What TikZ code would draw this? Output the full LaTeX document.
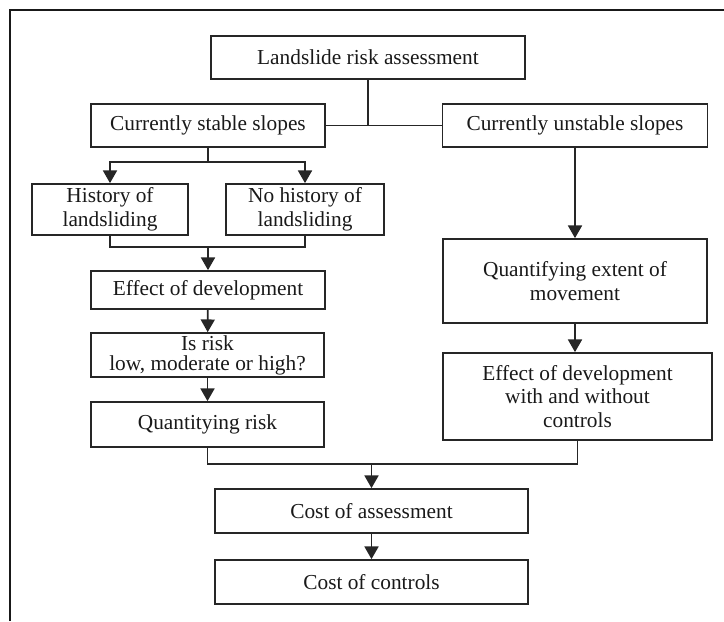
\documentclass[tikz,border=0pt]{standalone}
\usepackage{fontspec}
\setmainfont{Liberation Serif}
\usetikzlibrary{arrows.meta}
\newdimen\pxu \pxu=0.75pt

\begin{document}
\begin{tikzpicture}[x=0.75pt, y=-0.75pt,
        % Define block style
        block/.style={
        rectangle,
        draw=black!85,
        line width=1.3pt,
        align=center,
        inner sep=0pt,
        font=\fontsize{16}{17.8}\selectfont,
        text=black!90
        },
        size/.style 2 args={minimum width=#1\pxu, minimum height=#2\pxu},
        line/.style={draw=black!85, line width=1.3pt},
        arrow/.style={line, -{Triangle[length=9.5pt,width=10.5pt]}}]
        \useasboundingbox (0,0) rectangle (724,621);
        % Frame
        \draw[line width=1.6pt, black!90] (10,621) -- (10,10) -- (724,10);

        % Nodes
        \node[block, size={314}{43}] (risk) at (368,57.5) {Landslide risk assessment};
        \node[block, size={234}{43}] (stable) at (208,125.5) {Currently stable slopes};
        \node[block, size={265}{43}] (unstable) at (575,125.5) {Currently unstable slopes};
        \node[block, size={156}{51}] (hist) at (110,209.5) {History of\\landsliding};
        \node[block, size={158}{51}] (nohist) at (305,209.5) {No history of\\landsliding};
        \node[block, size={234}{38}] (effect) at (208,290) {Effect of development};
        \node[block, size={233}{44}, font=\fontsize{16}{15}\selectfont] (isrisk) at (207.5,355) {Is risk\\low, moderate or high?};
        \node[block, size={233}{45}] (quant) at (207.5,424.5) {Quantitying risk};
        \node[block, size={264}{84}] (extent) at (575,281) {Quantifying extent of\\movement};
        \node[block, size={269}{87}] (effctrl) at (577.5,396.5) {Effect of development\\with and without\\controls};
        \node[block, size={313}{44}] (costa) at (371.5,511) {Cost of assessment};
        \node[block, size={313}{44}] (costc) at (371.5,582) {Cost of controls};

        % Joints
        \coordinate (split) at (stable.south |- 0,162);
        \coordinate (join1) at (effect.north |- 0,247);
        \coordinate (join2) at (costa.north |- 0,464);

        % Arrows
        \draw[line] (risk.south) -- (risk.south |- stable.east);
        \draw[line] (stable.east) -- (unstable.west);
        \draw[line] (stable.south) -- (split);
        \draw[arrow] (split) -| (hist.north);
        \draw[arrow] (split) -| (nohist.north);
        \draw[line] (hist.south) |- (join1) -| (nohist.south);
        \draw[arrow] (join1) -- (effect.north);
        \draw[arrow] (effect) -- (isrisk);
        \draw[arrow] (isrisk) -- (quant);
        \draw[arrow] (unstable.south) -- (extent.north);
        \draw[arrow] (extent.south) -- (extent.south |- effctrl.north);
        \draw[line] (quant.south) |- (join2) -| (effctrl.south);
        \draw[arrow] (join2) -- (costa.north);
        \draw[arrow] (costa) -- (costc);
    \end{tikzpicture}
\end{document}
